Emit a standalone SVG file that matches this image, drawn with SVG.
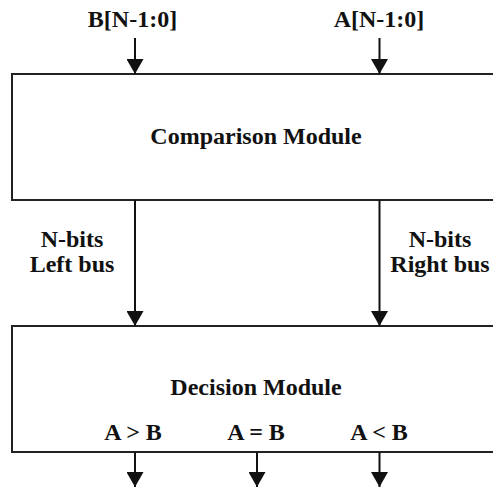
<svg xmlns="http://www.w3.org/2000/svg" width="493" height="490" viewBox="0 0 493 490">
<style>
  .t { font-family: 'Liberation Serif', 'Times New Roman', Times, serif; font-weight: bold; font-size: 24px; fill: #111; text-anchor: middle; }
  .box { fill: #fff; stroke: #222; stroke-width: 2; }
  .wire { stroke: #111; stroke-width: 2; fill: none; marker-end: url(#arrow); }
</style>
<defs>
  <marker id="arrow" markerUnits="userSpaceOnUse" markerWidth="15" markerHeight="17" viewBox="0 0 15 17" refX="15" refY="8.5" orient="auto">
    <path d="M0,0 L15,8.5 L0,17 Z" fill="#111"/>
  </marker>
</defs>
<rect width="493" height="490" fill="#fff"/>
<g id="comparison">
  <rect class="box" x="12" y="74" width="490" height="126"/>
  <text class="t" x="256" y="144">Comparison Module</text>
</g>
<g id="decision">
  <rect class="box" x="12" y="326" width="490" height="126"/>
  <text class="t" x="256" y="395">Decision Module</text>
  <text class="t" x="133" y="440">A &gt; B</text>
  <text class="t" x="256" y="440">A = B</text>
  <text class="t" x="379" y="440">A &lt; B</text>
</g>
<g id="labels">
  <text class="t" x="132.5" y="27">B[N-1:0]</text>
  <text class="t" x="379" y="27">A[N-1:0]</text>
  <text class="t" x="72" y="247">N-bits</text>
  <text class="t" x="72" y="272">Left bus</text>
  <text class="t" x="440" y="247">N-bits</text>
  <text class="t" x="440" y="272">Right bus</text>
</g>
<g id="connectors">
  <line class="wire" x1="135" y1="38" x2="135" y2="74"/>
  <line class="wire" x1="379.5" y1="38" x2="379.5" y2="74"/>
  <line class="wire" x1="135" y1="200" x2="135" y2="326"/>
  <line class="wire" x1="379.5" y1="200" x2="379.5" y2="326"/>
  <line class="wire" x1="135" y1="452" x2="135" y2="487"/>
  <line class="wire" x1="257" y1="452" x2="257" y2="487"/>
  <line class="wire" x1="379.5" y1="452" x2="379.5" y2="487"/>
</g>
</svg>
